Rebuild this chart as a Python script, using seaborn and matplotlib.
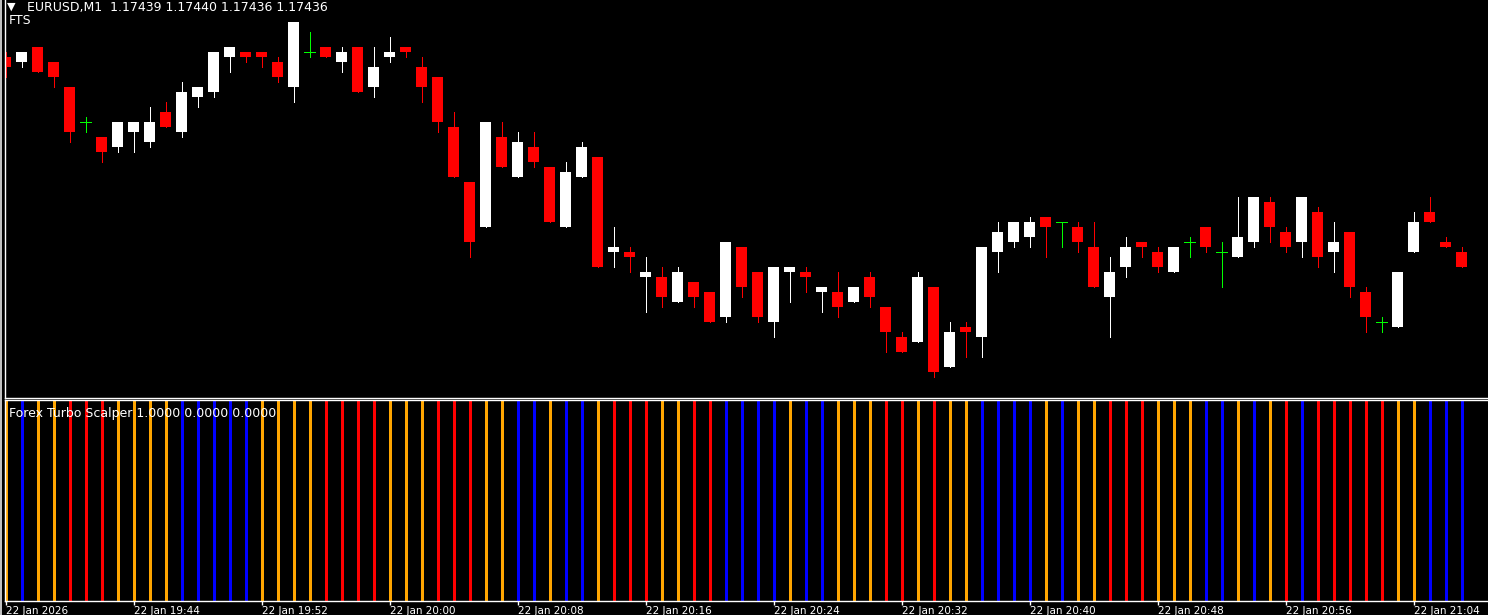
import numpy as np
import pandas as pd
import matplotlib
matplotlib.use("Agg")
import matplotlib.pyplot as plt
from matplotlib.patches import Rectangle
import seaborn as sns

# --- data: EURUSD M1, one candle per minute from 19:36 ---
opens = [1.17478, 1.17477, 1.17480, 1.17477, 1.17472, 1.17465, 1.17462, 1.17460, 1.17463, 1.17461,
         1.17467, 1.17463, 1.17470, 1.17471, 1.17478, 1.17479, 1.17479, 1.17477, 1.17472, 1.17479,
         1.17480, 1.17477, 1.17480, 1.17472, 1.17478, 1.17480, 1.17476, 1.17474, 1.17464, 1.17453,
         1.17444, 1.17462, 1.17454, 1.17460, 1.17456, 1.17444, 1.17454, 1.17458, 1.17439, 1.17439,
         1.17434, 1.17434, 1.17429, 1.17433, 1.17431, 1.17426, 1.17440, 1.17435, 1.17425, 1.17435,
         1.17435, 1.17431, 1.17431, 1.17429, 1.17434, 1.17428, 1.17422, 1.17421, 1.17432, 1.17416,
         1.17424, 1.17422, 1.17439, 1.17441, 1.17442, 1.17446, 1.17445, 1.17444, 1.17440, 1.17430,
         1.17436, 1.17441, 1.17439, 1.17435, 1.17441, 1.17444, 1.17439, 1.17438, 1.17441, 1.17449,
         1.17443, 1.17441, 1.17447, 1.17439, 1.17443, 1.17431, 1.17425, 1.17424, 1.17439, 1.17447,
         1.17441, 1.17439]
highs = [1.17479, 1.17479, 1.17480, 1.17477, 1.17472, 1.17466, 1.17462, 1.17465, 1.17465, 1.17468,
         1.17469, 1.17473, 1.17472, 1.17479, 1.17480, 1.17479, 1.17479, 1.17478, 1.17485, 1.17483,
         1.17480, 1.17480, 1.17480, 1.17480, 1.17482, 1.17480, 1.17478, 1.17474, 1.17467, 1.17453,
         1.17465, 1.17465, 1.17463, 1.17463, 1.17456, 1.17457, 1.17461, 1.17458, 1.17444, 1.17440,
         1.17438, 1.17436, 1.17436, 1.17433, 1.17431, 1.17441, 1.17440, 1.17435, 1.17436, 1.17436,
         1.17436, 1.17432, 1.17435, 1.17432, 1.17435, 1.17428, 1.17423, 1.17435, 1.17432, 1.17425,
         1.17425, 1.17440, 1.17445, 1.17445, 1.17446, 1.17446, 1.17445, 1.17445, 1.17445, 1.17438,
         1.17442, 1.17441, 1.17440, 1.17440, 1.17442, 1.17444, 1.17441, 1.17450, 1.17450, 1.17450,
         1.17444, 1.17450, 1.17448, 1.17445, 1.17443, 1.17432, 1.17426, 1.17435, 1.17447, 1.17450,
         1.17442, 1.17440]
lows = [1.17474, 1.17476, 1.17475, 1.17472, 1.17461, 1.17463, 1.17457, 1.17459, 1.17459, 1.17460,
        1.17464, 1.17462, 1.17468, 1.17470, 1.17475, 1.17477, 1.17476, 1.17473, 1.17469, 1.17478,
        1.17478, 1.17475, 1.17471, 1.17470, 1.17477, 1.17478, 1.17469, 1.17463, 1.17454, 1.17438,
        1.17444, 1.17456, 1.17454, 1.17456, 1.17445, 1.17444, 1.17454, 1.17436, 1.17436, 1.17435,
        1.17427, 1.17428, 1.17429, 1.17428, 1.17425, 1.17425, 1.17430, 1.17425, 1.17422, 1.17429,
        1.17431, 1.17427, 1.17426, 1.17429, 1.17428, 1.17419, 1.17419, 1.17421, 1.17414, 1.17416,
        1.17418, 1.17418, 1.17435, 1.17440, 1.17440, 1.17438, 1.17440, 1.17439, 1.17432, 1.17422,
        1.17434, 1.17438, 1.17435, 1.17435, 1.17438, 1.17439, 1.17432, 1.17438, 1.17440, 1.17441,
        1.17439, 1.17438, 1.17436, 1.17435, 1.17430, 1.17423, 1.17423, 1.17424, 1.17439, 1.17445,
        1.17440, 1.17436]
closes = [1.17476, 1.17479, 1.17475, 1.17474, 1.17463, 1.17465, 1.17459, 1.17465, 1.17465, 1.17465,
          1.17464, 1.17471, 1.17472, 1.17479, 1.17480, 1.17478, 1.17478, 1.17474, 1.17485, 1.17479,
          1.17478, 1.17479, 1.17471, 1.17476, 1.17479, 1.17479, 1.17472, 1.17465, 1.17454, 1.17441,
          1.17465, 1.17456, 1.17461, 1.17457, 1.17445, 1.17455, 1.17460, 1.17436, 1.17440, 1.17438,
          1.17435, 1.17430, 1.17435, 1.17430, 1.17425, 1.17441, 1.17432, 1.17426, 1.17436, 1.17436,
          1.17434, 1.17432, 1.17428, 1.17432, 1.17430, 1.17423, 1.17419, 1.17434, 1.17415, 1.17423,
          1.17423, 1.17440, 1.17443, 1.17445, 1.17445, 1.17444, 1.17445, 1.17441, 1.17432, 1.17435,
          1.17440, 1.17440, 1.17436, 1.17440, 1.17441, 1.17440, 1.17439, 1.17442, 1.17450, 1.17444,
          1.17440, 1.17450, 1.17438, 1.17441, 1.17432, 1.17426, 1.17425, 1.17435, 1.17445, 1.17445,
          1.17440, 1.17436]

# Forex Turbo Scalper signal per bar: O = orange, B = blue, R = red
signals = list("OBOORRROOOOBBBBBOOOORRRROOORRRO"
               "OBBOBBORRROORRBBBBOBBOOORRORO"
               "OBBBBOBOORRROOOBBOBORBRRRRROOBBB")

tick_labels = ["22 Jan 2026", "22 Jan 19:44", "22 Jan 19:52", "22 Jan 20:00",
               "22 Jan 20:08", "22 Jan 20:16", "22 Jan 20:24", "22 Jan 20:32",
               "22 Jan 20:40", "22 Jan 20:48", "22 Jan 20:56", "22 Jan 21:04"]

df = pd.DataFrame({"open": opens, "high": highs, "low": lows, "close": closes})
df["bar"] = np.arange(len(df))
df["signal"] = signals

# --- style ---
sns.set_style("dark", {"axes.facecolor": "black", "figure.facecolor": "black",
                       "axes.edgecolor": "white", "grid.color": "black"})
plt.rcParams["font.family"] = ["DejaVu Sans"]

W, H = 1488, 615
fig = plt.figure(figsize=(W / 100, H / 100), dpi=100)
fig.patch.set_facecolor("black")
fig.patches.append(Rectangle((0, 0), 2 / W, 1, transform=fig.transFigure,
                             facecolor="#c0c0c0", edgecolor="none"))

left = 4.5 / W
ax = fig.add_axes([left, 1 - 398 / H, 1 - left, 398 / H])
ax2 = fig.add_axes([left, 1 - 601 / H, 1 - left, 201 / H])

xmin = -0.0625
xmax = xmin + (W - 4.5) / 16
body_w = 11 / 16

# --- candles ---
diff = df["close"] - df["open"]
doji = diff.abs() < 1e-7
up = (diff > 0) & ~doji
down = (diff < 0) & ~doji

for mask, col in [(up, "white"), (down, "#ff0000")]:
    d = df[mask]
    ax.vlines(d["bar"], d["low"], d["high"], colors=col, lw=0.6, antialiased=False)
    ax.bar(d["bar"], (d["close"] - d["open"]).abs(), bottom=d[["open", "close"]].min(axis=1),
           width=body_w, color=col, linewidth=0, antialiased=False)

d = df[doji]
ax.vlines(d["bar"], d["low"], d["high"], colors="#00ff00", lw=0.6, antialiased=False)
ax.hlines(d["close"], d["bar"] - body_w / 2, d["bar"] + body_w / 2, colors="#00ff00",
          lw=0.6, antialiased=False)

ax.set_xlim(xmin, xmax)
ax.set_ylim(1.174098, 1.174894)
ax.set_xticks([])
ax.set_yticks([])
for s in ["top", "right"]:
    ax.spines[s].set_visible(False)
for s in ["left", "bottom"]:
    ax.spines[s].set_color("white")
    ax.spines[s].set_linewidth(1)

fig.text(7 / W, 1 - 7 / H, "\u25bc", color="white", fontsize=8, va="center", ha="left")
fig.text(27 / W, 1 - 7 / H, "EURUSD,M1  1.17439 1.17440 1.17436 1.17436",
         color="white", fontsize=9, va="center", ha="left")
fig.text(9 / W, 1 - 20 / H, "FTS", color="white", fontsize=9, va="center", ha="left")

# --- indicator panel ---
palette = {"O": "#ffa500", "B": "#0000ff", "R": "#ff0000"}
sns.rugplot(data=df, x="bar", hue="signal", palette=palette, height=1.0, lw=1.5,
            ax=ax2, legend=False, expand_margins=False, antialiased=False)
ax2.set_xlim(xmin, xmax)
ax2.set_ylim(0, 1)
ax2.set_yticks([])
ax2.spines["right"].set_visible(False)
for s in ["left", "top", "bottom"]:
    ax2.spines[s].set_color("white")
    ax2.spines[s].set_linewidth(1)
fig.text(9 / W, 1 - 413 / H, "Forex Turbo Scalper 1.0000 0.0000 0.0000",
         color="white", fontsize=9, va="center", ha="left", zorder=5)

ax2.set_xticks(np.arange(0, len(df), 8))
ax2.set_xticklabels(tick_labels, ha="left", color="white", fontsize=7.5)
ax2.tick_params(axis="x", direction="out", length=3, width=1, color="white", pad=0.5, bottom=True)
ax2.set_xlabel("")
ax2.set_ylabel("")

fig.savefig("out.png", dpi=100, facecolor="black")
